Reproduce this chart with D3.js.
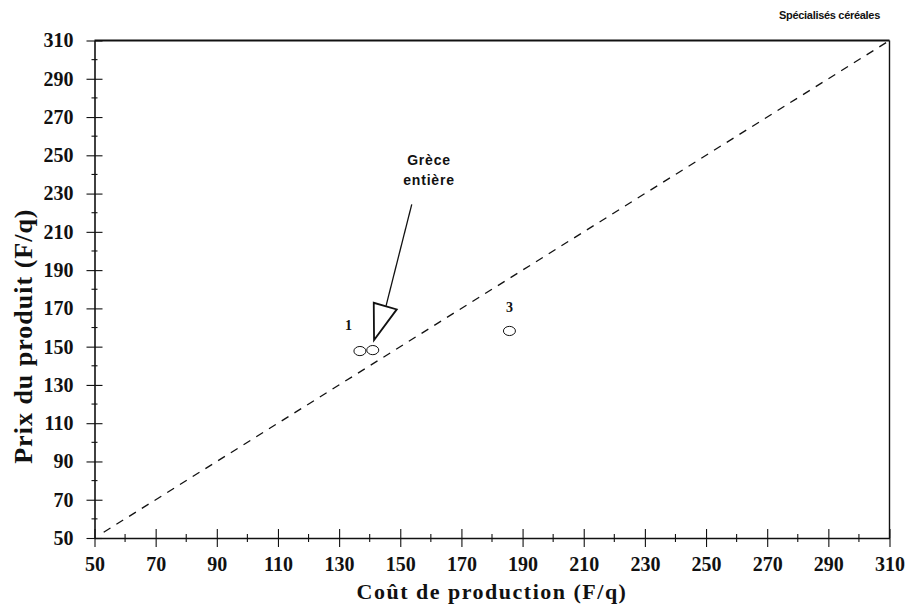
<!DOCTYPE html>
<html>
<head>
<meta charset="utf-8">
<script src="https://cdn.jsdelivr.net/npm/d3@7"></script>
<style>
  html, body { margin: 0; padding: 0; background: #fff; }
  svg { display: block; }
</style>
</head>
<body>
<svg id="chart" width="906" height="608"></svg>
<script>
// Exploitations spécialisées céréales : prix du produit vs coût de production
const regionLabels = ["1", "Grèce entière", "3"];
const costValues   = [136.8, 141.0, 185.7];   // Coût de production (F/q)
const priceValues  = [147.7, 148.2, 158.2];   // Prix du produit (F/q)
const majorTicks = [50, 70, 90, 110, 130, 150, 170, 190, 210, 230, 250, 270, 290, 310];
const minorTicks = [60, 80, 100, 120, 140, 160, 180, 200, 220, 240, 260, 280, 300];
const diagonal = [53, 309];   // ligne prix = coût

const svg = d3.select("#chart");
const x = d3.scaleLinear().domain([50, 310]).range([94.5, 889.5]);
const y = d3.scaleLinear().domain([50, 310]).range([538, 40.5]);

const ink = "#111";
const serif = "'Liberation Serif', 'Times New Roman', serif";
const sans = "'Liberation Sans', Arial, sans-serif";

// frame: top and right edges
svg.append("line").attr("x1", x(50)).attr("x2", x(310)).attr("y1", y(310)).attr("y2", y(310))
  .attr("stroke", ink).attr("stroke-width", 1.8);
svg.append("line").attr("x1", x(310)).attr("x2", x(310)).attr("y1", y(310)).attr("y2", y(50))
  .attr("stroke", ink).attr("stroke-width", 1.4);

// x axis
const gx = svg.append("g").attr("transform", `translate(0,${y(50)})`)
  .call(d3.axisBottom(x).tickValues(majorTicks).tickSize(0).tickPadding(19).tickFormat(d3.format("d")));
gx.select(".domain").attr("stroke", ink).attr("stroke-width", 1.6);
gx.selectAll(".tick text").attr("font-family", serif).attr("font-weight", "bold")
  .attr("font-size", 20).attr("fill", ink);
gx.selectAll(".tick line").attr("y1", -9).attr("y2", 9).attr("stroke", ink).attr("stroke-width", 1.1);
gx.selectAll(".minor").data(minorTicks).enter().append("line").attr("class", "minor")
  .attr("x1", d => x(d)).attr("x2", d => x(d)).attr("y1", -4).attr("y2", 4)
  .attr("stroke", ink).attr("stroke-width", 1.1);

// y axis
const gy = svg.append("g").attr("transform", `translate(${x(50)},0)`)
  .call(d3.axisLeft(y).tickValues(majorTicks).tickSize(0).tickPadding(21).tickFormat(d3.format("d")));
gy.select(".domain").attr("stroke", ink).attr("stroke-width", 1.6);
gy.selectAll(".tick text").attr("font-family", serif).attr("font-weight", "bold")
  .attr("font-size", 20).attr("fill", ink);
gy.selectAll(".tick line").attr("x1", -8).attr("x2", 8).attr("stroke", ink).attr("stroke-width", 1.1);
gy.selectAll(".minor").data(minorTicks).enter().append("line").attr("class", "minor")
  .attr("y1", d => y(d)).attr("y2", d => y(d)).attr("x1", -3).attr("x2", 3)
  .attr("stroke", ink).attr("stroke-width", 1.1);

// axis titles
svg.append("text").attr("x", x(180)).attr("y", 599).attr("text-anchor", "middle")
  .attr("font-family", serif).attr("font-weight", "bold").attr("font-size", 22)
  .attr("letter-spacing", 1.5).attr("fill", ink)
  .text("Coût de production (F/q)");
svg.append("text").attr("transform", `translate(32,${y(155.5)}) rotate(-90)`).attr("text-anchor", "middle")
  .attr("font-family", serif).attr("font-weight", "bold").attr("font-size", 26)
  .attr("letter-spacing", 1).attr("fill", ink)
  .text("Prix du produit (F/q)");

// chart title, right-aligned
svg.append("text").attr("x", 880).attr("y", 19).attr("text-anchor", "end")
  .attr("font-family", sans).attr("font-weight", "bold").attr("font-size", 11)
  .attr("letter-spacing", -0.3).attr("fill", ink)
  .text("Spécialisés céréales");

// diagonal prix = coût
svg.append("line")
  .attr("x1", x(diagonal[0])).attr("y1", y(diagonal[0]))
  .attr("x2", x(diagonal[1])).attr("y2", y(diagonal[1]))
  .attr("stroke", ink).attr("stroke-width", 1.3).attr("stroke-dasharray", "8,7");

// points
const pts = regionLabels.map((r, i) => ({ label: r, cost: costValues[i], price: priceValues[i] }));
svg.selectAll(".pt").data(pts).enter().append("ellipse").attr("class", "pt")
  .attr("cx", d => x(d.cost)).attr("cy", d => y(d.price)).attr("rx", 6).attr("ry", 4.6)
  .attr("fill", "none").attr("stroke", ink).attr("stroke-width", 1);

// numbered labels
const num = pts.filter(d => d.label.length === 1);
svg.selectAll(".num").data(num).enter().append("text").attr("class", "num")
  .attr("x", d => x(d.cost) + (d.label === "1" ? -11.5 : 0))
  .attr("y", d => y(d.price) + (d.label === "1" ? -21 : -19))
  .attr("text-anchor", "middle").attr("font-family", serif).attr("font-weight", "bold")
  .attr("font-size", 14).attr("fill", ink).text(d => d.label);

// "Grèce entière" callout with open arrowhead
const g = pts.find(d => d.label === "Grèce entière");
const tipX = x(g.cost) + 1.3, tipY = y(g.price) - 10;
svg.append("path")
  .attr("d", `M${tipX},${tipY} L${tipX - 0.3},${tipY - 37.3} L${tipX + 22.7},${tipY - 30.7} Z`)
  .attr("fill", "#fff").attr("stroke", ink).attr("stroke-width", 1.8).attr("stroke-linejoin", "miter");
svg.append("line").attr("x1", tipX + 12).attr("y1", tipY - 34.3)
  .attr("x2", tipX + 37.7).attr("y2", tipY - 135.7)
  .attr("stroke", ink).attr("stroke-width", 1.3);
const gt = svg.append("text").attr("text-anchor", "middle")
  .attr("font-family", sans).attr("font-weight", "bold").attr("font-size", 14)
  .attr("letter-spacing", 0.8).attr("fill", ink);
gt.append("tspan").attr("x", 429).attr("y", 165).text("Grèce");
gt.append("tspan").attr("x", 429).attr("y", 185).text("entière");
</script>
</body>
</html>
